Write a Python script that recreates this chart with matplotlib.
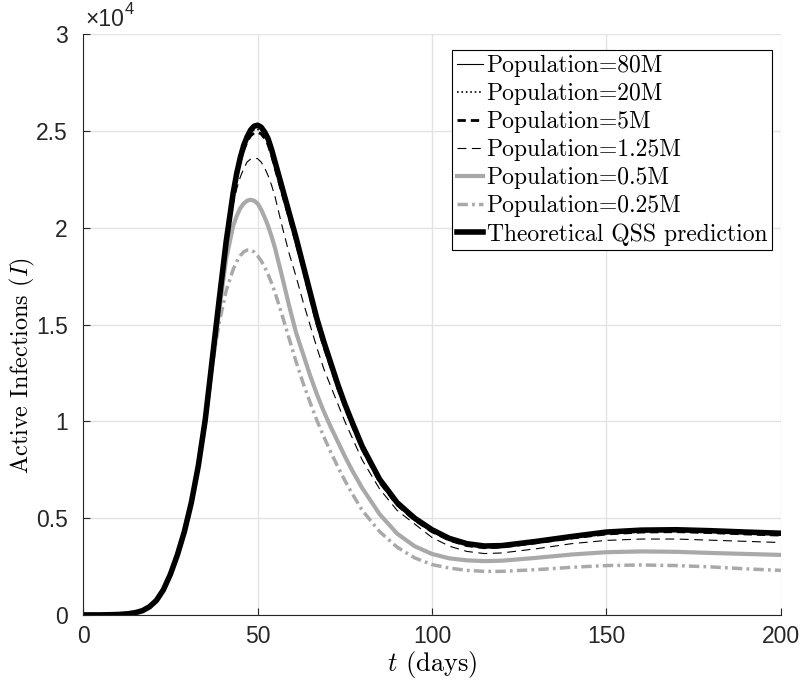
import numpy as np
import matplotlib
matplotlib.use("Agg")
import matplotlib.pyplot as plt

plt.rcParams['mathtext.fontset'] = 'cm'

# time grid (days); active infections in thousands
days = [1, 5, 10, 13, 15, 17, 19, 21, 23, 25, 27, 29, 31, 33,
        35, 37, 39, 41, 43, 44, 45, 46, 47, 48, 49, 50, 51, 52, 53, 54, 55,
        57, 59, 61, 63, 65, 67, 69, 71, 73, 75, 77, 80, 85, 90, 95, 100,
        105, 110, 115, 120, 130, 140, 150, 160, 170, 180, 190, 200]

# early growth is the same for every population
rise = [0.0, 0.0, 0.02, 0.06, 0.12, 0.22, 0.42, 0.75, 1.3, 2.1, 3.1, 4.3, 5.8, 7.7]

pop_80M = rise + [10.1, 13.2, 16.3, 19.3, 21.8, 22.8, 23.6, 24.2, 24.65, 25.0, 25.2, 25.23,
                  25.15, 24.9, 24.55, 24.0, 23.35, 22.05, 20.75, 19.45, 18.05, 16.65, 15.25,
                  14.05, 12.95, 11.85, 10.85, 9.95, 8.65, 6.95, 5.78, 4.98, 4.38, 3.93, 3.66,
                  3.54, 3.56, 3.78, 4.03, 4.26, 4.36, 4.38, 4.33, 4.26, 4.2]
pop_20M = rise + [10.1, 13.2, 16.3, 19.3, 21.75, 22.7, 23.5, 24.1, 24.55, 24.88, 25.05, 25.08,
                  25.0, 24.78, 24.45, 23.9, 23.25, 21.95, 20.65, 19.35, 17.95, 16.55, 15.2,
                  14.0, 12.9, 11.8, 10.8, 9.9, 8.6, 6.9, 5.73, 4.95, 4.35, 3.9, 3.63,
                  3.51, 3.53, 3.75, 4.0, 4.22, 4.32, 4.34, 4.3, 4.22, 4.17]
pop_5M = rise + [10.1, 13.2, 16.3, 19.2, 21.65, 22.6, 23.4, 24.0, 24.45, 24.75, 24.9, 24.93,
                 24.85, 24.63, 24.3, 23.75, 23.1, 21.8, 20.55, 19.25, 17.9, 16.45, 15.05,
                 13.85, 12.8, 11.7, 10.75, 9.85, 8.55, 6.85, 5.68, 4.9, 4.3, 3.86, 3.58,
                 3.47, 3.5, 3.73, 3.97, 4.18, 4.28, 4.3, 4.25, 4.18, 4.12]
pop_1_25M = rise + [10.1, 13.2, 16.2, 19.0, 21.2, 22.0, 22.6, 23.05, 23.4, 23.55, 23.6, 23.57,
                    23.4, 23.1, 22.7, 22.2, 21.6, 20.1, 18.7, 17.5, 16.2, 15.0, 13.8,
                    12.7, 11.8, 10.9, 10.0, 9.2, 8.0, 6.5, 5.4, 4.7, 4.0, 3.55, 3.28,
                    3.17, 3.2, 3.42, 3.68, 3.85, 3.92, 3.92, 3.86, 3.8, 3.74]
pop_0_5M = rise + [10.0, 13.0, 15.7, 18.4, 20.1, 20.6, 21.0, 21.25, 21.4, 21.45, 21.4, 21.25,
                   20.95, 20.55, 20.1, 19.55, 18.95, 17.5, 16.0, 14.6, 13.5, 12.4, 11.4,
                   10.5, 9.7, 8.95, 8.2, 7.5, 6.55, 5.2, 4.2, 3.55, 3.15, 2.92, 2.82,
                   2.78, 2.8, 2.95, 3.12, 3.24, 3.28, 3.26, 3.2, 3.15, 3.1]
pop_0_25M = rise + [10.0, 12.9, 15.1, 16.75, 17.85, 18.25, 18.55, 18.75, 18.85, 18.85, 18.75, 18.55,
                    18.3, 17.98, 17.6, 17.15, 16.65, 15.5, 14.3, 13.1, 12.0, 11.0, 10.05,
                    9.2, 8.4, 7.65, 6.95, 6.3, 5.4, 4.3, 3.5, 2.95, 2.6, 2.42, 2.3,
                    2.25, 2.25, 2.34, 2.46, 2.55, 2.58, 2.55, 2.48, 2.38, 2.3]
qss = rise + [10.1, 13.2, 16.3, 19.3, 21.8, 22.8, 23.6, 24.25, 24.7, 25.05, 25.25, 25.3,
              25.2, 24.95, 24.6, 24.05, 23.4, 22.1, 20.8, 19.5, 18.1, 16.7, 15.3,
              14.1, 13.0, 11.9, 10.9, 10.0, 8.7, 7.0, 5.8, 5.0, 4.4, 3.95, 3.68,
              3.56, 3.58, 3.8, 4.05, 4.28, 4.38, 4.4, 4.35, 4.28, 4.22]

labels = ['Population=80M', 'Population=20M', 'Population=5M', 'Population=1.25M',
          'Population=0.5M', 'Population=0.25M', 'Theoretical QSS prediction']

gray = '#a9a9a9'
t = np.array(days)

fig = plt.figure(figsize=(8, 6.84), dpi=100)
ax = fig.add_axes([0.104, 0.101, 0.872, 0.849])

ax.plot(t, np.array(pop_80M) * 1e3, '-', color='k', lw=0.8, label=labels[0])
ax.plot(t, np.array(pop_20M) * 1e3, ':', color='k', lw=1.2, label=labels[1])
ax.plot(t, np.array(pop_5M) * 1e3, '--', color='k', lw=2.0, dashes=(3, 1.8), label=labels[2])
ax.plot(t, np.array(pop_1_25M) * 1e3, '--', color='k', lw=0.8, dashes=(8, 5), label=labels[3])
ax.plot(t, np.array(pop_0_5M) * 1e3, '-', color=gray, lw=3.0, label=labels[4])
ax.plot(t, np.array(pop_0_25M) * 1e3, '-.', color=gray, lw=2.5,
        dashes=(3, 1.2, 0.8, 1.2), label=labels[5])
ax.plot(t, np.array(qss) * 1e3, '-', color='k', lw=4.0, label=labels[6])

ax.set_xlim(0, 200)
ax.set_ylim(0, 30000)
ax.set_xticks([0, 50, 100, 150, 200])
ax.set_yticks(np.arange(0, 30001, 5000))
ax.set_yticklabels(['0', '0.5', '1', '1.5', '2', '2.5', '3'])

for lab in ax.get_xticklabels() + ax.get_yticklabels():
    lab.set_fontfamily('Liberation Sans')
    lab.set_fontsize(16.5)

ax.tick_params(direction='in', length=5, width=0.8, colors='#262626')
ax.tick_params(axis='y', pad=11)
ax.tick_params(axis='x', pad=7)
ax.spines['top'].set_visible(False)
ax.spines['right'].set_visible(False)
for s in ['left', 'bottom']:
    ax.spines[s].set_color('#262626')
    ax.spines[s].set_linewidth(0.8)

ax.grid(True, color='#e3e3e3', lw=1.0)
ax.set_axisbelow(True)

# exponent label in the MATLAB style
ax.text(0.003, 1.006, '×10', transform=ax.transAxes, fontsize=16.5,
        fontfamily='Liberation Sans', va='bottom', ha='left', color='#262626')
ax.text(0.060, 1.030, '4', transform=ax.transAxes, fontsize=12,
        fontfamily='Liberation Sans', va='bottom', ha='left', color='#262626')

ax.set_xlabel(r'$t$ (days)', fontfamily='cmr10', fontsize=19, labelpad=1)
ax.set_ylabel(r'Active Infections $(I)$', fontfamily='cmr10', fontsize=17.5)
ax.yaxis.set_label_coords(-0.087, 0.43)
ax.yaxis.label.set_va('center')

leg = ax.legend(loc='upper right', bbox_to_anchor=(0.987, 0.9725), borderaxespad=0,
                prop={'family': 'cmr10', 'size': 17}, handlelength=1.1,
                handletextpad=0.15, labelspacing=0.25, borderpad=0.2,
                fancybox=False, framealpha=1, edgecolor='k')
leg.get_frame().set_linewidth(0.8)

fig.savefig('out.png', dpi=100)
